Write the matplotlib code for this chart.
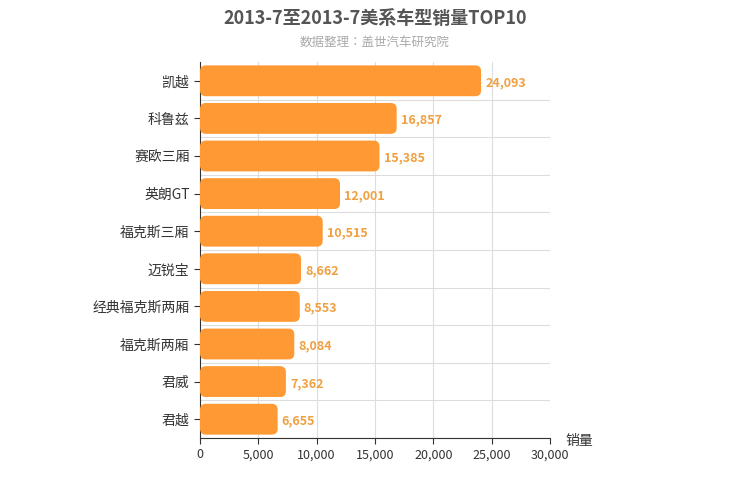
import matplotlib
matplotlib.use("Agg")
import matplotlib.pyplot as plt
from matplotlib.patches import FancyBboxPatch
from matplotlib import font_manager as fm

cjk = [f.name for f in fm.fontManager.ttflist if "CJK" in f.name]
fams = []
for nm in ["Noto Sans CJK SC", "Noto Sans CJK JP"] + cjk:
    if nm in cjk and nm not in fams:
        fams.append(nm)
plt.rcParams["font.family"] = ["DejaVu Sans"] + fams if False else fams + ["DejaVu Sans"]

categories = ["凯越", "科鲁兹", "赛欧三厢", "英朗GT", "福克斯三厢", "迈锐宝", "经典福克斯两厢", "福克斯两厢", "君威", "君越"]
values = [24093, 16857, 15385, 12001, 10515, 8662, 8553, 8084, 7362, 6655]
xticks = [0, 5000, 10000, 15000, 20000, 25000, 30000]

fig = plt.figure(figsize=(7.5, 5), dpi=100)
ax = fig.add_axes([200/750, 1-438/500, 350/750, 376/500])
n = len(categories)
ys = list(range(n))[::-1]
ax.set_xlim(0, 30000)
ax.set_ylim(-0.5, n-0.5)
bars = ax.barh(ys, values, height=0.82, color="none")
asp = (n/376)/(30000/350)
for b, v, y in zip(bars, values, ys):
    x0, y0, w, h = b.get_x(), b.get_y(), b.get_width(), b.get_height()
    p = FancyBboxPatch((x0, y0), w, h, boxstyle="round,pad=0,rounding_size=500",
                       mutation_aspect=asp, fc="#FF9933", ec="none", zorder=3)
    ax.add_patch(p)
    ax.text(v + 350, y - 0.05, f"{v:,}", va="center", ha="left", color="#F0A040",
            fontsize=9, fontweight="bold", zorder=4)
ax.set_yticks(ys)
ax.set_yticklabels(categories, fontsize=10, color="#333")
ax.set_xticks(xticks)
ax.set_xticklabels([f"{t:,}" for t in xticks], fontsize=9, color="#333")
for t in xticks[1:]:
    ax.axvline(t, color="#dddddd", lw=0.8, zorder=0)
for k in range(n):
    ax.axhline(k - 0.5, color="#dddddd", lw=0.8, zorder=0)
for s in ["top", "right"]:
    ax.spines[s].set_visible(False)
ax.spines["left"].set_color("#333")
ax.spines["bottom"].set_color("#333")
ax.tick_params(axis="y", length=4, color="#333")
ax.tick_params(axis="x", length=4, color="#333")
fig.text(565/750, 1-441/500, "销量", fontsize=10, color="#333", ha="left", va="center")
fig.text(0.5, 1-18/500, "2013-7至2013-7美系车型销量TOP10", ha="center", va="center",
         fontsize=13, fontweight="bold", color="#555")
fig.text(0.5, 1-42/500, "数据整理：盖世汽车研究院", ha="center", va="center",
         fontsize=9, color="#aaa")
fig.savefig("out.png", dpi=100)
